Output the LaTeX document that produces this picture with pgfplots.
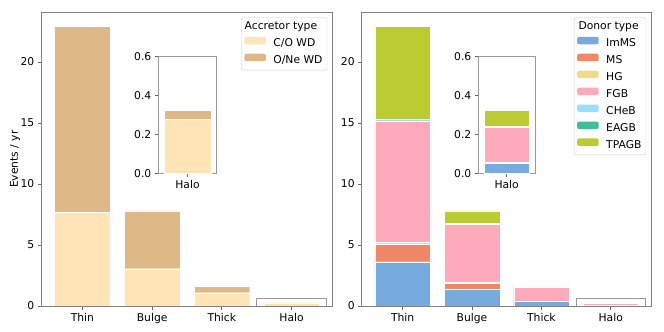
\documentclass[border=0pt]{standalone}
\usepackage{fontspec}
\setmainfont{DejaVu Sans}
\usepackage{pgfplots}
\pgfplotsset{compat=1.18}

% matplotlib named colours and Tol "light" scheme
\definecolor{cowd}{HTML}{FFE4B5}
\definecolor{onewd}{HTML}{DEB887}
\definecolor{imms}{HTML}{77AADD}
\definecolor{ms}{HTML}{EE8866}
\definecolor{hg}{HTML}{EEDD88}
\definecolor{fgb}{HTML}{FFAABB}
\definecolor{cheb}{HTML}{99DDFF}
\definecolor{eagb}{HTML}{44BB99}
\definecolor{tpagb}{HTML}{BBCC33}

\newcommand\ff{\fontsize{10.8}{13}\selectfont}

\pgfplotsset{
  base/.style={
    scale only axis,
    ybar stacked, bar width=0.8,
    axis line style={black!50, line width=0.8bp},
    tick style={black!60, line width=0.8bp},
    tick align=outside, major tick length=3.5bp,
    xtick pos=bottom, ytick pos=left,
    /pgf/number format/assume math mode=true,
    tick label style={font=\ff},
    label style={font=\ff},
    ymin=0,
    every axis plot/.append style={draw=white, line width=0.15bp},
    legend image code/.code={\fill[##1,draw=none] (0bp,-0.5bp) rectangle (21.6bp,7bp);},
    legend cell align=left,
    legend style={at={(1,1)}, anchor=north east, xshift=-5.5bp, yshift=-5bp,
      font=\ff,
      draw=black!20, rounded corners=2bp, fill=white,
      inner xsep=3bp, inner ysep=2.7bp, row sep=3.3bp,
      nodes={inner sep=1.5bp, text height=8bp, text depth=2.3bp},
      /tikz/every odd column/.append style={column sep=6bp}},
  },
  main/.style={base,
    width=290bp, height=293.7bp,
    xmin=-0.59, xmax=3.59, ymax=24.08,
    xtick={0,1,2,3}, xticklabels={Thin,Bulge,Thick,Halo},
    ytick={0,5,10,15,20},
  },
  inset/.style={base,
    width=57.5bp, height=116.6bp,
    xmin=-0.5, xmax=0.5, ymax=0.6,
    xtick={0}, xticklabels={Halo},
    ytick={0,0.2,0.4,0.6},
    yticklabel style={/pgf/number format/.cd, fixed, fixed zerofill, precision=1},
    axis background/.style={fill=white},
    axis line style={black!40, line width=1bp},
  },
}

\begin{document}
\begin{tikzpicture}[font=\ff]
\useasboundingbox (0,0) rectangle (664bp,332bp);

% ---------- left: accretor type ----------
\begin{axis}[main, at={(41.3bp,26bp)}, anchor=south west, width=291.4bp,
  ylabel={Events / yr},
  every axis y label/.style={at={(axis description cs:0,0.5)}, xshift=-26.3bp, rotate=90, anchor=center}]
\addlegendimage{empty legend}
\addlegendentry{\hspace{-28.7bp}Accretor type}
\addplot[fill=cowd] coordinates {(0,7.70) (1,3.06) (2,1.09) (3,0.28)};
\addlegendentry{C/O WD}
\addplot[fill=onewd] coordinates {(0,15.25) (1,4.74) (2,0.55) (3,0.045)};
\addlegendentry{O/Ne WD}
\draw[black!40, line width=0.8bp] (axis cs:2.5,0) rectangle (axis cs:3.5,0.63);
\end{axis}

\begin{axis}[inset, at={(158.3bp,158.7bp)}, anchor=south west, width=58.4bp]
\addplot[fill=cowd] coordinates {(0,0.278)};
\addplot[fill=onewd] coordinates {(0,0.047)};
\end{axis}

% ---------- right: donor type ----------
\begin{axis}[main, at={(361.7bp,26bp)}, anchor=south west]
\addlegendimage{empty legend}
\addlegendentry{\hspace{-27.7bp}Donor type}
\addplot[fill=imms] coordinates {(0,3.63) (1,1.36) (2,0.38) (3,0.052)};
\addlegendentry{ImMS}
\addplot[fill=ms] coordinates {(0,1.42) (1,0.49) (2,0.03) (3,0.003)};
\addlegendentry{MS}
\addplot[fill=hg] coordinates {(0,0.17) (1,0.08) (2,0.02) (3,0.005)};
\addlegendentry{HG}
\addplot[fill=fgb] coordinates {(0,9.93) (1,4.77) (2,1.10) (3,0.18)};
\addlegendentry{FGB}
\addplot[fill=cheb] coordinates {(0,0.15) (1,0.07) (2,0.01) (3,0.002)};
\addlegendentry{CHeB}
\addplot[fill=eagb] coordinates {(0,0.05) (1,0.05) (2,0.01) (3,0.001)};
\addlegendentry{EAGB}
\addplot[fill=tpagb] coordinates {(0,7.60) (1,0.98) (2,0.09) (3,0.08)};
\addlegendentry{TPAGB}
\draw[black!40, line width=0.8bp] (axis cs:2.5,0) rectangle (axis cs:3.5,0.63);
\end{axis}

\begin{axis}[inset, at={(478.3bp,158.7bp)}, anchor=south west, width=56.7bp]
\addplot[fill=imms] coordinates {(0,0.052)};
\addplot[fill=ms] coordinates {(0,0.003)};
\addplot[fill=hg] coordinates {(0,0.005)};
\addplot[fill=fgb] coordinates {(0,0.180)};
\addplot[fill=cheb] coordinates {(0,0.002)};
\addplot[fill=eagb] coordinates {(0,0.001)};
\addplot[fill=tpagb] coordinates {(0,0.080)};
\end{axis}
\end{tikzpicture}
\end{document}
